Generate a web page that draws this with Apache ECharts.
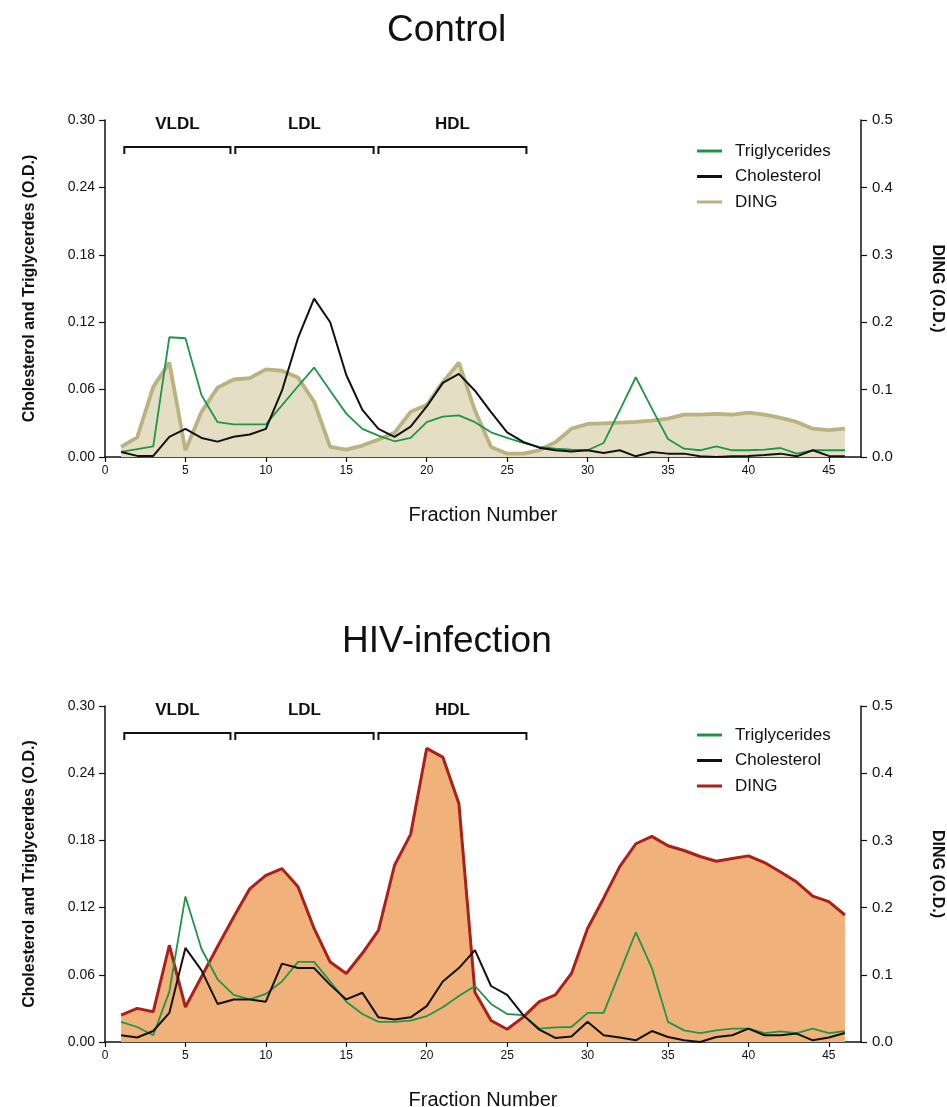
<!DOCTYPE html>
<html>
<head>
<meta charset="utf-8">
<script src="https://cdn.jsdelivr.net/npm/echarts@6/dist/echarts.min.js"></script>
<style>
  html, body { margin: 0; padding: 0; background: #fff; }
  #chart { width: 947px; height: 1107px; }
</style>
</head>
<body>
<div id="chart"></div>
<script>
// fraction numbers (x)
const fractions = [1, 2, 3, 4, 5, 6, 7, 8, 9, 10, 11, 12, 13, 14, 15, 16, 17, 18, 19, 20, 21, 22, 23,
  24, 25, 26, 27, 28, 29, 30, 31, 32, 33, 34, 35, 36, 37, 38, 39, 40, 41, 42, 43, 44, 45, 46]

// Control
const ctrlTG = [0.0045, 0.007, 0.0095, 0.1066, 0.1057, 0.055, 0.031, 0.029, 0.029, 0.029, 0.046, 0.063,
  0.0796, 0.059, 0.0386, 0.025, 0.019, 0.014, 0.017, 0.031, 0.036, 0.037, 0.031, 0.022, 0.017, 0.0125,
  0.009, 0.0074, 0.0065, 0.006, 0.0125, 0.0416, 0.071, 0.043, 0.016, 0.0074, 0.006, 0.0095, 0.006,
  0.006, 0.0065, 0.008, 0.003, 0.006, 0.006, 0.006]
const ctrlChol = [0.0045, 0.001, 0.001, 0.018, 0.025, 0.017, 0.0137, 0.018, 0.020, 0.025, 0.059, 0.106,
  0.141, 0.120, 0.073, 0.042, 0.025, 0.018, 0.027, 0.045, 0.066, 0.074, 0.059, 0.040, 0.022, 0.0134,
  0.0083, 0.006, 0.005, 0.006, 0.0036, 0.006, 0.0006, 0.0045, 0.003, 0.003, 0.0006, 0, 0.0006, 0.001,
  0.0018, 0.003, 0.0006, 0.006, 0.001, 0.0006]
const ctrlDing = [0.015, 0.029, 0.104, 0.140, 0.010, 0.067, 0.103, 0.115, 0.117, 0.130, 0.128, 0.118,
  0.082, 0.015, 0.011, 0.017, 0.026, 0.036, 0.067, 0.077, 0.111, 0.140, 0.069, 0.015, 0.005, 0.005,
  0.010, 0.022, 0.042, 0.049, 0.050, 0.051, 0.052, 0.054, 0.057, 0.063, 0.063, 0.064, 0.063, 0.066,
  0.063, 0.058, 0.052, 0.042, 0.040, 0.042]

// HIV-infection
const hivTG = [0.018, 0.0134, 0.006, 0.045, 0.130, 0.083, 0.056, 0.042, 0.038, 0.043, 0.054, 0.0715,
  0.0715, 0.054, 0.036, 0.025, 0.018, 0.018, 0.019, 0.023, 0.031, 0.041, 0.050, 0.034, 0.025, 0.024,
  0.012, 0.013, 0.0134, 0.026, 0.026, 0.062, 0.098, 0.066, 0.018, 0.0104, 0.008, 0.0104, 0.012, 0.012,
  0.008, 0.0095, 0.008, 0.012, 0.008, 0.0098]
const hivChol = [0.006, 0.004, 0.0098, 0.026, 0.084, 0.064, 0.034, 0.038, 0.038, 0.036, 0.070, 0.066,
  0.066, 0.051, 0.038, 0.044, 0.022, 0.020, 0.022, 0.032, 0.054, 0.066, 0.082, 0.050, 0.042, 0.024,
  0.011, 0.0036, 0.005, 0.018, 0.006, 0.004, 0.0015, 0.0098, 0.0045, 0.0015, 0, 0.0045, 0.006, 0.012,
  0.006, 0.006, 0.0075, 0.0015, 0.004, 0.008]
const hivDing = [0.040, 0.050, 0.045, 0.144, 0.052, 0.097, 0.142, 0.186, 0.228, 0.248, 0.258, 0.231,
  0.169, 0.119, 0.102, 0.132, 0.166, 0.263, 0.309, 0.437, 0.424, 0.355, 0.074, 0.032, 0.019, 0.037,
  0.060, 0.070, 0.102, 0.169, 0.214, 0.261, 0.295, 0.306, 0.292, 0.285, 0.276, 0.269, 0.273, 0.277,
  0.267, 0.253, 0.238, 0.217, 0.209, 0.189]

// lipoprotein brackets (fraction ranges)
const bracketNames = ['VLDL', 'LDL', 'HDL']
const bracketRanges = [[1.2, 7.8], [8.1, 16.7], [17.0, 26.2]]

const titles = ['Control', 'HIV-infection']
const legendNames = ['Triglycerides', 'Cholesterol', 'DING']

const FONT = 'Liberation Sans, Arial, Helvetica, sans-serif'
const GREEN = '#1f9647'
const BLACK = '#111111'
const TAN = '#bbb281'
const TAN_FILL = '#e4dfc4'
const RED = '#a9211b'
const RED_FILL = '#f0b17b'

const pairs = arr => fractions.map((f, i) => [f, arr[i]])

const chart = echarts.init(document.getElementById('chart'))

const grids = [
  { left: 105, top: 120, width: 756, height: 337, outerBoundsMode: 'none', containLabel: false },
  { left: 105, top: 706, width: 756, height: 336, outerBoundsMode: 'none', containLabel: false }
]

function xAxisFor (gi) {
  return {
    type: 'value',
    gridIndex: gi,
    min: 0,
    max: 47,
    interval: 5,
    name: 'Fraction Number',
    nameLocation: 'middle',
    nameGap: 48,
    nameTextStyle: { fontFamily: FONT, fontSize: 20, color: '#111' },
    axisLine: { lineStyle: { color: '#111', width: 1.5 } },
    axisTick: { length: 5, lineStyle: { color: '#111', width: 1.2 } },
    axisLabel: { fontFamily: FONT, fontSize: 12, color: '#111', margin: 8, showMaxLabel: false },
    splitLine: { show: false }
  }
}

function leftAxisFor (gi) {
  return {
    type: 'value',
    gridIndex: gi,
    position: 'left',
    min: 0,
    max: 0.3,
    interval: 0.06,
    name: 'Cholesterol and Triglycerdes (O.D.)',
    nameLocation: 'middle',
    nameGap: 67,
    nameTextStyle: { fontFamily: FONT, fontSize: 16, fontWeight: 'bold', color: '#111' },
    axisLine: { show: true, lineStyle: { color: '#111', width: 1.5 } },
    axisTick: { show: true, length: 6, lineStyle: { color: '#111', width: 1.2 } },
    axisLabel: { fontFamily: FONT, fontSize: 14, color: '#111', margin: 10, formatter: v => v.toFixed(2) },
    splitLine: { show: false }
  }
}

function rightAxisFor (gi) {
  return {
    type: 'value',
    gridIndex: gi,
    position: 'right',
    min: 0,
    max: 0.5,
    interval: 0.1,
    name: 'DING (O.D.)',
    nameLocation: 'middle',
    nameRotate: -90,
    nameGap: 68,
    nameTextStyle: { fontFamily: FONT, fontSize: 16, fontWeight: 'bold', color: '#111' },
    axisLine: { show: true, lineStyle: { color: '#111', width: 1.5 } },
    axisTick: { show: true, length: 6, lineStyle: { color: '#111', width: 1.2 } },
    axisLabel: { fontFamily: FONT, fontSize: 15, color: '#111', margin: 11, formatter: v => v.toFixed(1) },
    splitLine: { show: false }
  }
}

function lineSeries (name, data, gi, yi, color, width, fill) {
  const s = {
    name: name,
    type: 'line',
    xAxisIndex: gi,
    yAxisIndex: yi,
    data: pairs(data),
    symbol: 'none',
    smooth: false,
    itemStyle: { color: color },
    lineStyle: { color: color, width: width },
    emphasis: { disabled: true },
    z: fill ? 2 : 3
  }
  if (fill) s.areaStyle = { color: fill, opacity: 1 }
  return s
}

function bracketSeries (gi) {
  return {
    type: 'custom',
    xAxisIndex: gi,
    yAxisIndex: gi * 2,
    data: bracketRanges,
    z: 5,
    silent: true,
    renderItem: (params, api) => {
      const a = api.coord([api.value(0), 0.276])
      const b = api.coord([api.value(1), 0.276])
      return {
        type: 'group',
        children: [
          {
            type: 'polyline',
            shape: { points: [[a[0], a[1] + 7], a, b, [b[0], b[1] + 7]] },
            style: { stroke: '#111', lineWidth: 2, fill: null }
          },
          {
            type: 'text',
            style: {
              text: bracketNames[params.dataIndex],
              x: (a[0] + b[0]) / 2,
              y: a[1] - 23,
              align: 'center',
              verticalAlign: 'middle',
              font: 'bold 17px ' + FONT,
              fill: '#111'
            }
          }
        ]
      }
    }
  }
}

function legendFor (top, dingColor) {
  const colors = [GREEN, BLACK, dingColor]
  return {
    left: 697,
    top: top,
    padding: 0,
    orient: 'vertical',
    icon: 'rect',
    itemWidth: 25,
    itemHeight: 3,
    itemGap: 5.5,
    selectedMode: false,
    textStyle: { fontFamily: FONT, fontSize: 17, color: '#111', lineHeight: 20, padding: [0, 0, 0, 8] },
    data: legendNames.map((n, i) => ({ name: n, itemStyle: { color: colors[i] } }))
  }
}

const option = {
  animation: false,
  backgroundColor: '#fff',
  title: [
    { text: titles[0], left: 387, top: 12, padding: 0, textStyle: { fontFamily: FONT, fontSize: 37, fontWeight: 'normal', color: '#111' } },
    { text: titles[1], left: 342, top: 623, padding: 0, textStyle: { fontFamily: FONT, fontSize: 37, fontWeight: 'normal', color: '#111' } }
  ],
  grid: grids,
  legend: [legendFor(141, TAN), legendFor(725, RED)],
  xAxis: [xAxisFor(0), xAxisFor(1)],
  yAxis: [leftAxisFor(0), rightAxisFor(0), leftAxisFor(1), rightAxisFor(1)],
  series: [
    lineSeries('DING', ctrlDing, 0, 1, TAN, 3.8, TAN_FILL),
    lineSeries('Triglycerides', ctrlTG, 0, 0, GREEN, 1.8),
    lineSeries('Cholesterol', ctrlChol, 0, 0, BLACK, 2),
    bracketSeries(0),
    lineSeries('DING', hivDing, 1, 3, RED, 3, RED_FILL),
    lineSeries('Triglycerides', hivTG, 1, 2, GREEN, 1.8),
    lineSeries('Cholesterol', hivChol, 1, 2, BLACK, 2),
    bracketSeries(1)
  ]
}

chart.setOption(option)
</script>
</body>
</html>
